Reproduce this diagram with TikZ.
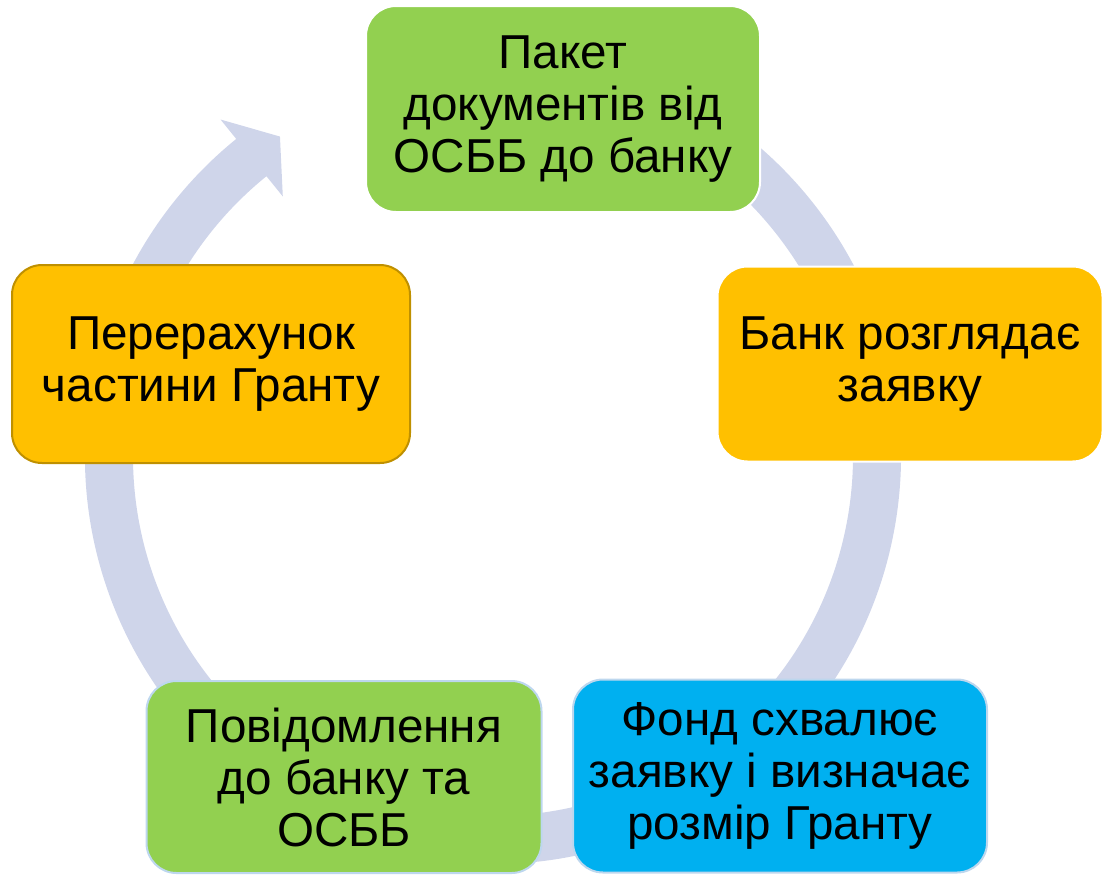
\documentclass[tikz,border=0pt]{standalone}
\usepackage{fontspec}
\setmainfont{Liberation Sans}
\usetikzlibrary{positioning}
\definecolor{stepgreen}{HTML}{92D050}
\definecolor{steporange}{HTML}{FFC000}
\definecolor{stepblue}{HTML}{00B0F0}
\definecolor{cyclearrow}{HTML}{CFD5EA}
\definecolor{darkgold}{HTML}{BF9000}
\definecolor{paleblue}{HTML}{BDD7EE}

\begin{document}
\begin{tikzpicture}[
x=0.5pt,y=-0.5pt,
stage/.style={
	rounded corners=15pt,
	align=center,
	inner sep=0pt,
	line width=1pt,
	font=\fontsize{23.8}{26}\selectfont
},
cycle/.style={
	fill=cyclearrow,
	shift={(493,456)}
}
]
\useasboundingbox (0,0) rectangle (1104,874);

% circular arrow behind the boxes
\fill[cycle] (-80:408) arc[start angle=-80,end angle=231,radius=408]
	-- (231:433) -- (236.3:384) -- (231:334) -- (231:360)
	arc[start angle=231,end angle=-80,radius=360] -- cycle;

\foreach \n/\x/\y/\w/\h/\f/\d/\t in {
	pack/563/109/394/206/stepgreen/white/{Пакет\\документів від\\ОСББ до банку},
	review/910/364/385/195/steporange/white/{Банк розглядає\\заявку},
	approve/780/776/414/193/stepblue/paleblue/{Фонд схвалює\\заявку і визначає\\розмір Гранту},
	notify/344/777/395/192/stepgreen/paleblue/{Повідомлення\\до банку та\\ОСББ},
	transfer/211/364/398/198/steporange/darkgold/{Перерахунок\\частини Гранту}}
\node[stage,fill=\f,draw=\d,minimum width=\w*0.5pt,minimum height=\h*0.5pt] (\n) at (\x,\y) {\t};
\end{tikzpicture}
\end{document}
